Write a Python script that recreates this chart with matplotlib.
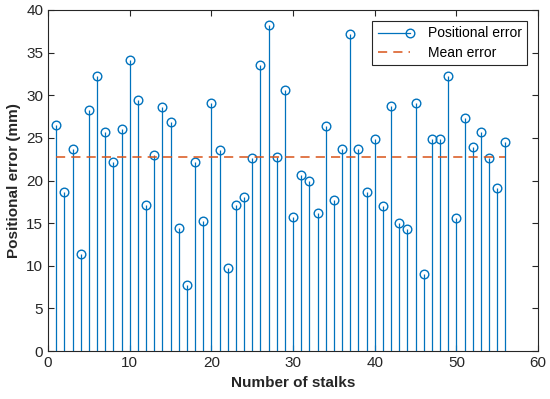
import matplotlib
matplotlib.use('Agg')
import matplotlib.pyplot as plt
from matplotlib.lines import Line2D
from matplotlib.legend_handler import HandlerLine2D
import numpy as np
#
plt.rcParams['font.family'] = ['Liberation Sans', 'DejaVu Sans']
#
stalks = np.arange(1, 57)
errors = [26.5, 18.6, 23.7, 11.4, 28.3, 32.3, 25.7, 22.2, 26.1, 34.1,
		  29.5, 17.1, 23.0, 28.6, 26.9, 14.4, 7.8, 22.2, 15.3, 29.1,
		  23.6, 9.7, 17.1, 18.1, 22.6, 33.5, 38.2, 22.8, 30.6, 15.7,
		  20.7, 20.0, 16.2, 26.4, 17.7, 23.7, 37.2, 23.7, 18.6, 24.9,
		  17.0, 28.7, 15.0, 14.3, 29.1, 9.1, 24.9, 24.9, 32.3, 15.6,
		  27.3, 23.9, 25.7, 22.7, 19.1, 24.5]
mean_error = 22.8
#
stem_color = '#0072BD'
mean_color = '#D95319'
msize = 6.2
#
class StemHandler(HandlerLine2D):
	# line with the circle at the right end, like matlab
	def create_artists(self, legend, orig_handle, xdescent, ydescent, width, height, fontsize, trans):
		y = height / 2. - ydescent
		line = Line2D([-xdescent, width - xdescent], [y, y], color=stem_color, linewidth=0.9)
		mark = Line2D([width - xdescent], [y], color=stem_color, marker='o', markerfacecolor='none', markersize=msize, linestyle='none')
		line.set_transform(trans)
		mark.set_transform(trans)
		return [line, mark]
#
fig = plt.figure(figsize=(5.5, 3.99), dpi=100)
ax = fig.add_axes([0.0873, 0.120, 0.891, 0.855])
#
markerline, stemlines, baseline = ax.stem(stalks, errors, linefmt='-', markerfmt='o', basefmt=' ')
plt.setp(stemlines, color=stem_color, linewidth=0.9)
plt.setp(markerline, color=stem_color, markerfacecolor='none', markersize=msize, markeredgewidth=1.0)
#
ax.plot([stalks[0], stalks[-1]], [mean_error, mean_error], '--', color=mean_color, linewidth=1.1, dashes=(6, 4))
#
ax.set_xlim(0, 60)
ax.set_ylim(0, 40)
ax.set_xticks(np.arange(0, 61, 10))
ax.set_yticks(np.arange(0, 41, 5))
ax.tick_params(direction='in', top=True, right=True, labelsize=11, length=4, colors='#262626')
for s in ax.spines.values():
	s.set_color('#262626')
	s.set_linewidth(0.8)
#
ax.set_xlabel('Number of stalks', fontsize=11, fontweight='bold', color='#262626')
ax.set_ylabel('Positional error (mm)', fontsize=11, fontweight='bold', color='#262626')
#
h_stem = Line2D([], [], color=stem_color)
h_mean = Line2D([], [], color=mean_color, linestyle='--', dashes=(6, 4), linewidth=1.1)
leg = ax.legend([h_stem, h_mean], ['Positional error', 'Mean error'], handler_map={h_stem: StemHandler()},
				loc='upper right', fontsize=10, fancybox=False, framealpha=1, edgecolor='#262626',
				borderaxespad=0.8, handlelength=2.3, handletextpad=1.3, borderpad=0.38, labelspacing=0.38)
leg.get_frame().set_linewidth(0.8)
#
fig.savefig('out.png', dpi=100)
